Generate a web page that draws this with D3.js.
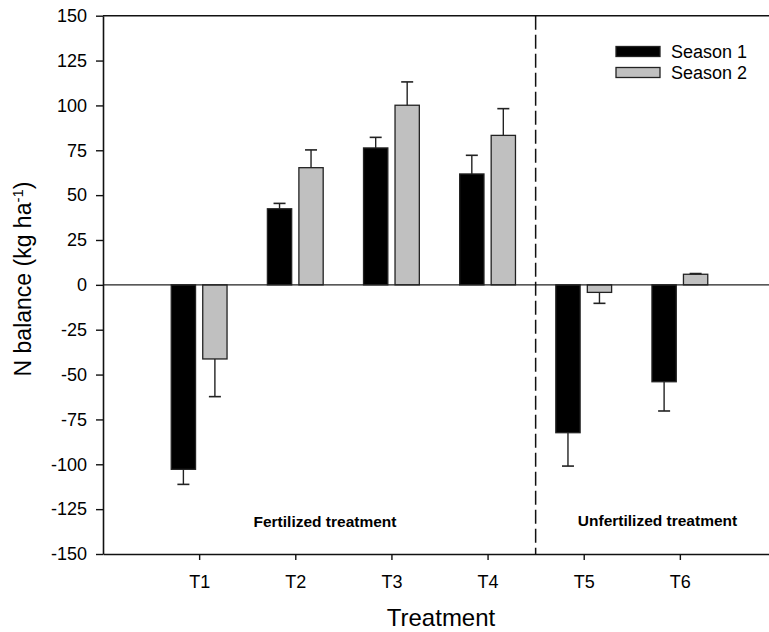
<!DOCTYPE html>
<html>
<head>
<meta charset="utf-8">
<script src="https://cdn.jsdelivr.net/npm/d3@7"></script>
<style>
  body { margin: 0; background: #fff; }
  text { font-family: Arial, "Liberation Sans", sans-serif; fill: #000; }
</style>
</head>
<body>
<div id="chart"></div>
<script>
// data
var treatments = ["T1", "T2", "T3", "T4", "T5", "T6"];
var season1 = [-102.8, 42.4, 76.3, 61.8, -82.4, -54.0];
var season1Err = [8.4, 3.0, 5.9, 10.4, 18.6, 16.3];
var season2 = [-41.3, 65.3, 100.1, 83.3, -4.2, 5.9];
var season2Err = [21.0, 9.9, 13.0, 14.9, 6.1, 0.4];
var yTicks = [150, 125, 100, 75, 50, 25, 0, -25, -50, -75, -100, -125, -150];
var seriesNames = ["Season 1", "Season 2"];
var seriesColors = ["#000000", "#c0c0c0"];

var svgWidth = 769;
var svgHeight = 632;

var svg = d3.select("#chart")
    .append("svg")
    .attr("width", svgWidth)
    .attr("height", svgHeight);

// x: categories sit at 1..6, axis runs 0..7 (right end cut by the page)
var xScale = d3.scaleLinear()
    .domain([0, 7])
    .range([103, 776]);

var yScale = d3.scaleLinear()
    .domain([-150, 150])
    .range([554, 15.7]);

var barWidth = 24.3;
var barGap = 3.6;

// bars
var series = [
    {vals: season1, errs: season1Err, color: seriesColors[0], off: -barGap - barWidth},
    {vals: season2, errs: season2Err, color: seriesColors[1], off: barGap}
];

series.forEach(function(s) {
    var g = svg.append("g");
    g.selectAll("rect")
        .data(s.vals)
        .enter()
        .append("rect")
        .attr("x", (d, i) => xScale(i + 1) + s.off)
        .attr("y", d => yScale(Math.max(d, 0)))
        .attr("width", barWidth)
        .attr("height", d => Math.abs(yScale(d) - yScale(0)))
        .attr("fill", s.color)
        .attr("stroke", "#222")
        .attr("stroke-width", 1.3);

    // one-sided error bars, away from zero
    s.vals.forEach(function(d, i) {
        var cx = xScale(i + 1) + s.off + barWidth / 2;
        var end = d >= 0 ? d + s.errs[i] : d - s.errs[i];
        g.append("line")
            .attr("x1", cx).attr("x2", cx)
            .attr("y1", yScale(d)).attr("y2", yScale(end))
            .attr("stroke", "#222")
            .attr("stroke-width", 1.4);
        g.append("line")
            .attr("x1", cx - 6).attr("x2", cx + 6)
            .attr("y1", yScale(end)).attr("y2", yScale(end))
            .attr("stroke", "#222")
            .attr("stroke-width", 1.6);
    });
});

// zero line
svg.append("line")
    .attr("x1", xScale(0)).attr("x2", svgWidth)
    .attr("y1", yScale(0)).attr("y2", yScale(0))
    .attr("stroke", "#222")
    .attr("stroke-width", 1.3);

// dashed separator between fertilized / unfertilized
svg.append("line")
    .attr("x1", xScale(4.5)).attr("x2", xScale(4.5))
    .attr("y1", yScale(150)).attr("y2", yScale(-150))
    .attr("stroke", "#111")
    .attr("stroke-width", 1.5)
    .attr("stroke-dasharray", "14,5");

// top frame line
svg.append("line")
    .attr("x1", xScale(0)).attr("x2", svgWidth)
    .attr("y1", yScale(150)).attr("y2", yScale(150))
    .attr("stroke", "#111")
    .attr("stroke-width", 1.5);

// axes
var leftAxis = d3.axisLeft(yScale)
    .tickValues(yTicks)
    .tickFormat(d => String(d))   // plain hyphen, not the unicode minus
    .tickSize(7)
    .tickPadding(9)
    .tickSizeOuter(0);

var yAxis = svg.append("g")
    .attr("transform", `translate(${xScale(0)}, 0)`)
    .call(leftAxis);

var bottomAxis = d3.axisBottom(xScale)
    .tickValues([1, 2, 3, 4, 5, 6])
    .tickFormat(d => treatments[d - 1])
    .tickSize(6)
    .tickPadding(15)
    .tickSizeOuter(0);

var xAxis = svg.append("g")
    .attr("transform", `translate(0, ${yScale(-150)})`)
    .call(bottomAxis);

[yAxis, xAxis].forEach(function(ax) {
    ax.select(".domain").attr("stroke", "#111").attr("stroke-width", 1.6);
    ax.selectAll(".tick line").attr("stroke", "#111").attr("stroke-width", 1.4);
    ax.selectAll(".tick text")
        .style("font-family", "Arial, 'Liberation Sans', sans-serif")
        .attr("fill", "#111");
});
yAxis.selectAll(".tick text").style("font-size", "18px");
xAxis.selectAll(".tick text").style("font-size", "18px");

// axis titles
svg.append("text")
    .attr("x", 441)
    .attr("y", 626)
    .attr("text-anchor", "middle")
    .style("font-size", "24px")
    .text("Treatment");

var yTitle = svg.append("text")
    .attr("transform", "translate(31, 279) rotate(-90)")
    .attr("text-anchor", "middle")
    .style("font-size", "23px");
yTitle.append("tspan").text("N balance (kg ha");
yTitle.append("tspan").attr("dy", -8).style("font-size", "15px").text("-1");
yTitle.append("tspan").attr("dy", 8).text(")");

// group annotations
svg.append("text")
    .attr("x", 325)
    .attr("y", 526.5)
    .attr("text-anchor", "middle")
    .style("font-size", "15.5px")
    .style("font-weight", "bold")
    .text("Fertilized treatment");

svg.append("text")
    .attr("x", 657.5)
    .attr("y", 525.5)
    .attr("text-anchor", "middle")
    .style("font-size", "15.5px")
    .style("font-weight", "bold")
    .text("Unfertilized treatment");

// legend
var legend = svg.append("g")
    .attr("transform", "translate(616, 46.5)");

seriesNames.forEach(function(name, i) {
    legend.append("rect")
        .attr("x", 0)
        .attr("y", i * 21)
        .attr("width", 44)
        .attr("height", 10)
        .attr("fill", seriesColors[i])
        .attr("stroke", "#222")
        .attr("stroke-width", 1.3);
    legend.append("text")
        .attr("x", 55)
        .attr("y", i * 21 + 11)
        .style("font-size", "18px")
        .text(name);
});
</script>
</body>
</html>
